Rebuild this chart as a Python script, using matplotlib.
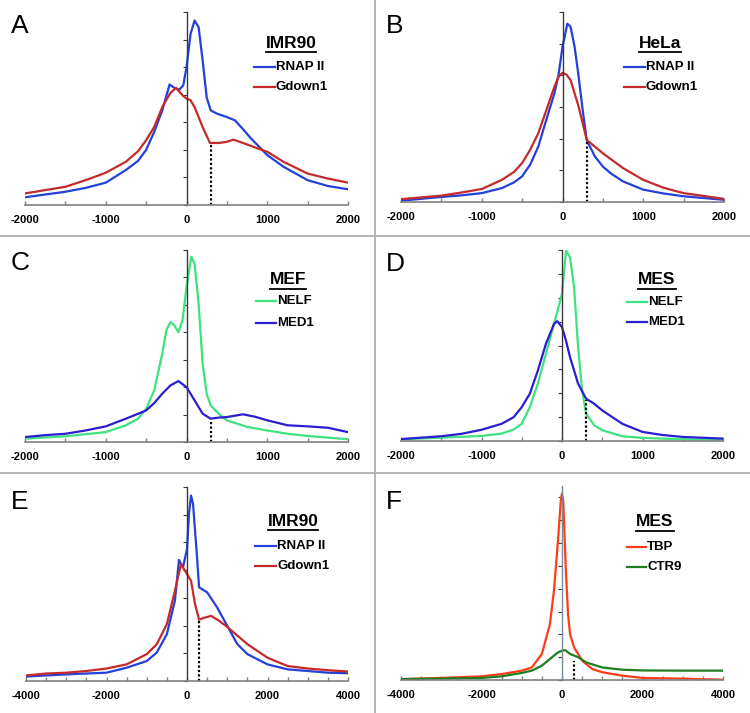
import matplotlib
matplotlib.use("Agg")
import matplotlib.pyplot as plt
from matplotlib.lines import Line2D
from matplotlib.ticker import MultipleLocator, NullFormatter

plt.rcParams["axes.unicode_minus"] = False

# ---- data (y in arbitrary axis units) ----
# Panel A: IMR90, +/-2000
a_rnap_x = [-2000, -1750, -1500, -1250, -1000, -750, -600, -500, -400, -300, -210, -150, -90, -40, 0, 50, 100, 150, 200, 250, 300, 380, 500, 600, 700, 800, 1000, 1200, 1500, 1750, 2000]
a_rnap_y = [0.28, 0.38, 0.48, 0.62, 0.81, 1.27, 1.6, 2.0, 2.65, 3.43, 4.37, 4.25, 4.18, 4.34, 5.0, 6.2, 6.69, 6.45, 5.24, 3.9, 3.43, 3.31, 3.19, 3.07, 2.75, 2.41, 1.81, 1.39, 0.9, 0.69, 0.57]
a_gdown_x = [-2000, -1750, -1500, -1250, -1000, -750, -600, -500, -400, -300, -200, -130, -50, 0, 50, 100, 200, 290, 400, 500, 580, 700, 800, 1000, 1200, 1500, 1750, 2000]
a_gdown_y = [0.42, 0.54, 0.66, 0.9, 1.17, 1.57, 1.95, 2.35, 2.83, 3.55, 4.06, 4.25, 3.98, 3.86, 3.8, 3.55, 2.83, 2.25, 2.25, 2.29, 2.37, 2.25, 2.14, 1.93, 1.57, 1.14, 0.96, 0.81]

# Panel B: HeLa, +/-2000
b_rnap_x = [-2000, -1500, -1250, -1000, -750, -600, -500, -400, -300, -200, -100, -50, 0, 60, 100, 150, 200, 250, 300, 400, 500, 600, 750, 1000, 1250, 1500, 2000]
b_rnap_y = [0.04, 0.16, 0.21, 0.28, 0.44, 0.62, 0.81, 1.18, 1.75, 2.6, 3.43, 4.0, 4.9, 5.63, 5.53, 4.9, 3.96, 2.9, 1.96, 1.44, 1.12, 0.9, 0.65, 0.39, 0.27, 0.18, 0.07]
b_gdown_x = [-2000, -1500, -1250, -1000, -750, -600, -500, -400, -300, -200, -100, -50, 0, 50, 100, 200, 300, 400, 500, 600, 750, 1000, 1250, 1500, 2000]
b_gdown_y = [0.09, 0.2, 0.3, 0.41, 0.7, 0.95, 1.23, 1.65, 2.17, 2.9, 3.64, 3.95, 4.08, 4.02, 3.85, 3.01, 1.96, 1.75, 1.54, 1.35, 1.07, 0.7, 0.45, 0.28, 0.1]

# Panel C: MEF, +/-2000
c_nelf_x = [-2000, -1500, -1000, -750, -600, -500, -400, -300, -250, -200, -150, -100, -50, 0, 60, 100, 150, 200, 250, 300, 400, 500, 750, 1000, 1250, 1500, 2000]
c_nelf_y = [0.12, 0.21, 0.36, 0.61, 0.85, 1.21, 1.88, 3.22, 4.07, 4.37, 4.25, 4.0, 4.43, 5.64, 6.76, 6.49, 5.04, 2.85, 1.76, 1.33, 1.03, 0.79, 0.55, 0.42, 0.3, 0.22, 0.1]
c_med1_x = [-2000, -1750, -1500, -1250, -1000, -750, -500, -400, -300, -200, -100, 0, 100, 200, 300, 400, 500, 700, 850, 1000, 1250, 1500, 1750, 2000]
c_med1_y = [0.18, 0.25, 0.3, 0.42, 0.57, 0.85, 1.15, 1.42, 1.76, 2.06, 2.22, 2.0, 1.52, 1.03, 0.85, 0.89, 0.91, 1.01, 0.92, 0.79, 0.61, 0.57, 0.52, 0.36]

# Panel D: MES, +/-2000
d_nelf_x = [-2000, -1500, -1000, -750, -600, -500, -400, -300, -200, -100, 0, 50, 100, 150, 200, 250, 300, 400, 500, 750, 1000, 1500, 2000]
d_nelf_y = [0.07, 0.14, 0.21, 0.31, 0.48, 0.72, 1.42, 2.4, 3.65, 4.9, 6.16, 7.97, 7.69, 6.44, 3.93, 2.12, 1.14, 0.66, 0.45, 0.2, 0.13, 0.07, 0.06]
d_med1_x = [-2000, -1500, -1250, -1000, -750, -600, -500, -400, -300, -200, -100, -60, 0, 50, 100, 200, 300, 400, 500, 750, 1000, 1250, 1500, 2000]
d_med1_y = [0.08, 0.2, 0.3, 0.47, 0.72, 1.0, 1.42, 1.98, 2.95, 4.07, 4.9, 5.02, 4.77, 4.2, 3.51, 2.4, 1.77, 1.56, 1.28, 0.72, 0.38, 0.25, 0.17, 0.1]

# Panel E: IMR90, +/-4000
e_rnap_x = [-4000, -3500, -3000, -2500, -2000, -1500, -1000, -750, -500, -300, -200, -100, 0, 50, 100, 150, 250, 300, 500, 750, 1000, 1250, 1500, 2000, 2500, 3000, 3500, 4000]
e_rnap_y = [0.16, 0.2, 0.24, 0.27, 0.3, 0.48, 0.72, 1.03, 1.69, 2.9, 4.37, 4.1, 4.76, 6.03, 6.69, 6.39, 4.46, 3.38, 3.2, 2.65, 1.99, 1.33, 0.97, 0.6, 0.42, 0.36, 0.3, 0.28]
e_gdown_x = [-4000, -3500, -3000, -2500, -2000, -1500, -1000, -750, -500, -300, -150, 0, 100, 200, 300, 400, 600, 800, 1000, 1500, 2000, 2500, 3000, 3500, 4000]
e_gdown_y = [0.2, 0.27, 0.3, 0.36, 0.45, 0.6, 0.97, 1.33, 2.05, 3.26, 4.22, 3.86, 3.62, 2.77, 2.21, 2.27, 2.35, 2.17, 1.95, 1.33, 0.84, 0.54, 0.45, 0.39, 0.34]

# Panel F: MES, +/-4000
f_tbp_x = [-4000, -3000, -2000, -1500, -1000, -750, -500, -300, -200, -100, -30, 0, 30, 100, 150, 200, 300, 500, 750, 1000, 1500, 2000, 3000, 4000]
f_tbp_y = [0.04, 0.09, 0.16, 0.26, 0.41, 0.55, 1.14, 2.45, 3.91, 6.1, 7.85, 8.18, 7.85, 4.64, 2.89, 2.01, 1.43, 0.85, 0.48, 0.34, 0.19, 0.09, 0.06, 0.01]
f_ctr9_x = [-4000, -3000, -2000, -1500, -1000, -750, -500, -300, -100, 0, 80, 200, 400, 600, 1000, 1500, 2000, 3000, 4000]
f_ctr9_y = [0.04, 0.06, 0.09, 0.16, 0.31, 0.41, 0.63, 0.92, 1.21, 1.28, 1.31, 1.14, 1.0, 0.77, 0.55, 0.45, 0.42, 0.41, 0.41]

letters = ["A", "B", "C", "D", "E", "F"]
cells = ["IMR90", "HeLa", "MEF", "MES", "IMR90", "MES"]
series_names = [["RNAP II", "Gdown1"], ["RNAP II", "Gdown1"], ["NELF", "MED1"],
                ["NELF", "MED1"], ["RNAP II", "Gdown1"], ["TBP", "CTR9"]]
x_spans = [2000, 2000, 2000, 2000, 4000, 4000]
y_tops = [7, 6, 7, 8, 7, 8.5]
dotted_x = [300, 300, 300, 300, 300, 300]
dotted_top = [2.25, 1.96, 0.8, 1.7, 2.2, 0.85]

series = [
    [(a_rnap_x, a_rnap_y), (a_gdown_x, a_gdown_y)],
    [(b_rnap_x, b_rnap_y), (b_gdown_x, b_gdown_y)],
    [(c_nelf_x, c_nelf_y), (c_med1_x, c_med1_y)],
    [(d_nelf_x, d_nelf_y), (d_med1_x, d_med1_y)],
    [(e_rnap_x, e_rnap_y), (e_gdown_x, e_gdown_y)],
    [(f_tbp_x, f_tbp_y), (f_ctr9_x, f_ctr9_y)],
]

blue, red = "#2440d8", "#c42a2a"
green, violet = "#3ee27e", "#2a1ed0"
orange, dgreen = "#ff3b1a", "#1e7d1e"
colors = [[blue, red], [blue, red], [green, violet], [green, violet], [blue, red], [orange, dgreen]]

# ---- layout in pixels ----
W, H = 750, 713
fig = plt.figure(figsize=(W / 100, H / 100), dpi=100)


def fx(px):
    return px / W


def fy(py):
    return 1 - py / H


# axes boxes: left, right, top, bottom (pixels)
boxes = [(25, 348, 12, 205), (401, 724, 12, 202), (25, 348, 250, 442),
         (401, 723, 250, 441), (26, 348, 487, 681), (401, 723, 486, 680)]
title_pos = [(291, 43), (660, 43), (288, 280), (657, 280), (293, 521), (655, 522)]
legend_x = [(254, 275), (624, 645), (256, 276), (627, 647), (255, 276), (627, 646)]
legend_y = [(67, 87), (67, 87), (301, 323), (302, 322), (546, 566), (547, 567)]
letter_pos = [(11, 33), (386, 33), (11, 270), (386, 271), (11, 509), (386, 509)]

bold_font = "Liberation Sans"
titles = []
for i in range(6):
    l, r, t, b = boxes[i]
    ax = fig.add_axes([fx(l), fy(b), (r - l) / W, (b - t) / H])
    ax.patch.set_alpha(0)
    for (xs, ys), c in zip(series[i], colors[i]):
        ax.plot(xs, ys, color=c, lw=1.6, solid_joinstyle="round")
    ax.plot([dotted_x[i], dotted_x[i]], [0, dotted_top[i]], color="black", lw=1.6, ls=(0, (1, 1)))

    span = x_spans[i]
    ax.set_xlim(-span, span)
    ax.set_ylim(0, y_tops[i])
    ax.spines["top"].set_visible(False)
    ax.spines["right"].set_visible(False)
    ax.spines["left"].set_position(("data", 0))
    ax.spines["left"].set_color("#7a8a9a" if i == 5 else "#3a3a3a")
    ax.spines["bottom"].set_color("#808080")
    ax.spines["left"].set_linewidth(1.0)
    ax.spines["bottom"].set_linewidth(1.2)

    step = span // 2
    ax.xaxis.set_major_locator(MultipleLocator(step))
    ax.xaxis.set_minor_locator(MultipleLocator(500))
    ax.yaxis.set_major_locator(MultipleLocator(1))
    ax.yaxis.set_major_formatter(NullFormatter())
    ax.tick_params(axis="x", which="both", direction="in", length=3, color="#808080", width=1)
    ax.tick_params(axis="x", which="major", pad=7, labelsize=8)
    ax.tick_params(axis="y", which="major", direction="out", length=3, color="#3a3a3a", width=0.8)
    for lab in ax.get_xticklabels():
        lab.set_fontweight("bold")
        lab.set_family(bold_font)

    # letter
    fig.text(fx(letter_pos[i][0]), fy(letter_pos[i][1]), letters[i], fontsize=19,
             family="Liberation Sans", va="baseline", ha="left")
    # title
    tx, ty = title_pos[i]
    titles.append(fig.text(fx(tx), fy(ty), cells[i], fontsize=12.5, fontweight="bold",
                           family=bold_font, ha="center", va="center"))
    # legend
    x0, x1 = legend_x[i]
    for name, c, yy in zip(series_names[i], colors[i], legend_y[i]):
        fig.add_artist(Line2D([fx(x0), fx(x1)], [fy(yy), fy(yy)], color=c, lw=1.6,
                              transform=fig.transFigure))
        fig.text(fx(x1 + 1), fy(yy), name, fontsize=9.5, fontweight="bold",
                 family=bold_font, ha="left", va="center")

# panel separators
sep = "#b4b4b4"
fig.add_artist(Line2D([fx(375), fx(375)], [0, 1], color=sep, lw=1.4, transform=fig.transFigure))
for yy in (236, 473):
    fig.add_artist(Line2D([0, 1], [fy(yy), fy(yy)], color=sep, lw=1.4, transform=fig.transFigure))

# underline the titles
fig.canvas.draw()
rend = fig.canvas.get_renderer()
for t in titles:
    bb = t.get_window_extent(rend)
    yline = bb.y0 - 1
    fig.add_artist(Line2D([bb.x0 / W, bb.x1 / W], [yline / H, yline / H], color="black",
                          lw=1.3, transform=fig.transFigure))

fig.savefig("out.png", dpi=100)
